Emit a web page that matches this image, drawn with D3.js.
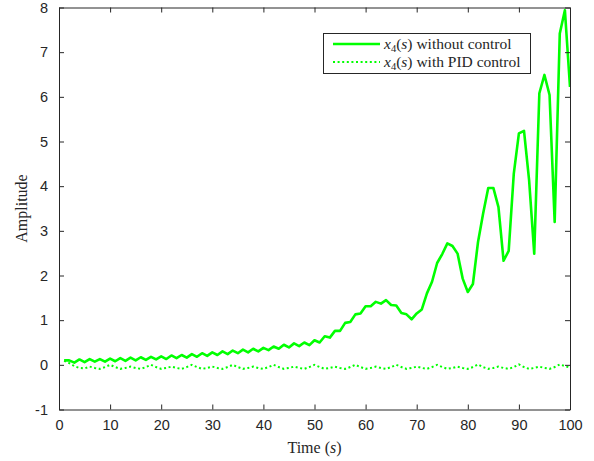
<!DOCTYPE html>
<html lang="en">
<head>
    <meta charset="UTF-8">
    <script src="https://d3js.org/d3.v7.min.js"></script>
    <title>x4(s) amplitude</title>
    <style>
        body { margin: 0; background: #fff; }
        .tick text { font: 14.5px "Liberation Sans", Arial, sans-serif; fill: #262626; }
        .serif { font-family: "Liberation Serif", "Times New Roman", serif; fill: #262626; }
    </style>
</head>
<body>
    <svg width="594" height="461"></svg>
    <script>
        // sample times, 1 s step
        var time = d3.range(1, 101);

        // x4(s) without control
        var noControl = [
            0.10, 0.10, 0.05, 0.12, 0.06, 0.13, 0.07, 0.13, 0.07, 0.14,
            0.08, 0.15, 0.09, 0.16, 0.10, 0.17, 0.11, 0.18, 0.12, 0.19,
            0.13, 0.21, 0.15, 0.22, 0.16, 0.24, 0.18, 0.26, 0.20, 0.28,
            0.22, 0.30, 0.24, 0.32, 0.26, 0.34, 0.28, 0.36, 0.30, 0.38,
            0.33, 0.41, 0.36, 0.45, 0.39, 0.48, 0.42, 0.50, 0.44, 0.55,
            0.50, 0.64, 0.61, 0.76, 0.76, 0.94, 0.96, 1.13, 1.15, 1.31,
            1.31, 1.41, 1.37, 1.45, 1.34, 1.33, 1.16, 1.13, 1.02, 1.15,
            1.24, 1.60, 1.86, 2.28, 2.48, 2.72, 2.66, 2.49, 1.93, 1.63,
            1.81, 2.75, 3.39, 3.96, 3.96, 3.53, 2.33, 2.55, 4.28, 5.18,
            5.24, 4.13, 2.49, 6.08, 6.49, 6.04, 3.20, 7.42, 7.94, 6.22
        ];

        // x4(s) with PID control
        var withPid = [
            0.09, 0.04, -0.03, -0.07, -0.08, -0.04, -0.07, -0.09, -0.05, 0.00,
            -0.05, -0.09, -0.07, -0.04, -0.07, -0.09, -0.05, 0.00, -0.05, -0.09,
            -0.07, -0.04, -0.07, -0.09, -0.05, 0.00, -0.05, -0.09, -0.07, -0.04,
            -0.07, -0.09, -0.05, 0.00, -0.05, -0.09, -0.07, -0.04, -0.07, -0.09,
            -0.05, 0.00, -0.05, -0.09, -0.07, -0.04, -0.07, -0.09, -0.05, 0.00,
            -0.05, -0.09, -0.07, -0.04, -0.07, -0.09, -0.05, 0.00, -0.05, -0.09,
            -0.07, -0.04, -0.07, -0.09, -0.05, 0.00, -0.05, -0.09, -0.07, -0.04,
            -0.07, -0.09, -0.05, 0.00, -0.05, -0.09, -0.07, -0.04, -0.07, -0.09,
            -0.05, 0.01, -0.05, -0.09, -0.07, -0.04, -0.07, -0.09, -0.05, 0.01,
            -0.05, -0.09, -0.07, -0.04, -0.07, -0.09, -0.05, 0.01, -0.03, -0.06
        ];

        var xTicks = [0, 10, 20, 30, 40, 50, 60, 70, 80, 90, 100];
        var yTicks = [-1, 0, 1, 2, 3, 4, 5, 6, 7, 8];

        var plotLeft = 59, plotRight = 570, plotTop = 7.5, plotBottom = 409.5;
        var green = "#00ff00", axisColor = "#262626";

        var svg = d3.select("svg");

        var x = d3.scaleLinear().domain([0, 100]).range([plotLeft, plotRight]);
        var y = d3.scaleLinear().domain([-1, 8]).range([plotBottom, plotTop]);

        var line = d3.line()
            .x(function(d, i) { return x(time[i]); })
            .y(function(d) { return y(d); });

        svg.append("clipPath").attr("id", "plot")
            .append("rect")
            .attr("x", plotLeft).attr("y", plotTop)
            .attr("width", plotRight - plotLeft).attr("height", plotBottom - plotTop);

        svg.append("path")
            .datum(withPid)
            .attr("clip-path", "url(#plot)")
            .attr("d", line)
            .attr("fill", "none")
            .attr("stroke", green)
            .attr("stroke-width", 2)
            .attr("stroke-dasharray", "2,2.6");

        svg.append("path")
            .datum(noControl)
            .attr("clip-path", "url(#plot)")
            .attr("d", line)
            .attr("fill", "none")
            .attr("stroke", green)
            .attr("stroke-width", 2.6)
            .attr("stroke-linejoin", "round");

        // axes, ticks pointing inward, box on all four sides
        function styleAxis(g) {
            g.select(".domain").attr("stroke", axisColor);
            g.selectAll(".tick line").attr("stroke", axisColor);
        }
        // plain hyphen for negatives, like the original figure
        var plain = function(d) { return String(d); };

        svg.append("g")
            .attr("transform", "translate(0," + plotBottom + ")")
            .call(d3.axisBottom(x).tickValues(xTicks).tickFormat(plain).tickSizeInner(-5).tickSizeOuter(0).tickPadding(10))
            .call(styleAxis);

        svg.append("g")
            .attr("transform", "translate(0," + plotTop + ")")
            .call(d3.axisTop(x).tickValues(xTicks).tickSizeInner(-5).tickSizeOuter(0).tickFormat(""))
            .call(styleAxis);

        svg.append("g")
            .attr("transform", "translate(" + plotLeft + ",0)")
            .call(d3.axisLeft(y).tickValues(yTicks).tickFormat(plain).tickSizeInner(-5).tickSizeOuter(0).tickPadding(11))
            .call(styleAxis);

        svg.append("g")
            .attr("transform", "translate(" + plotRight + ",0)")
            .call(d3.axisRight(y).tickValues(yTicks).tickSizeInner(-5).tickSizeOuter(0).tickFormat(""))
            .call(styleAxis);

        // axis labels
        var xl = svg.append("text").attr("class", "serif")
            .attr("x", (plotLeft + plotRight) / 2).attr("y", 453)
            .attr("text-anchor", "middle")
            .style("font-size", "16px");
        xl.append("tspan").text("Time (");
        xl.append("tspan").style("font-style", "italic").text("s");
        xl.append("tspan").text(")");

        svg.append("text").attr("class", "serif")
            .attr("transform", "translate(27," + ((plotTop + plotBottom) / 2) + ") rotate(-90)")
            .attr("text-anchor", "middle")
            .style("font-size", "16px")
            .text("Amplitude");

        // legend
        var legend = svg.append("g");
        legend.append("rect")
            .attr("x", 323.5).attr("y", 33.5)
            .attr("width", 207).attr("height", 40)
            .attr("fill", "#fff")
            .attr("stroke", axisColor)
            .attr("stroke-width", 1);

        var entries = [
            { label: " without control", dash: null, w: 2.6 },
            { label: " with PID control", dash: "2,2.6", w: 2 }
        ];

        entries.forEach(function(e, i) {
            var cy = 44 + i * 18;
            legend.append("line")
                .attr("x1", 333).attr("x2", 380)
                .attr("y1", cy).attr("y2", cy)
                .attr("stroke", green)
                .attr("stroke-width", e.w)
                .attr("stroke-dasharray", e.dash);
            var t = legend.append("text").attr("class", "serif")
                .attr("x", 384).attr("y", cy + 4.5)
                .style("font-size", "15.5px");
            t.append("tspan").style("font-style", "italic").text("x");
            t.append("tspan").attr("dy", 3).style("font-size", "10.5px").text("4");
            t.append("tspan").attr("dy", -3).text("(");
            t.append("tspan").style("font-style", "italic").text("s");
            t.append("tspan").text(")" + e.label);
        });
    </script>
</body>
</html>
